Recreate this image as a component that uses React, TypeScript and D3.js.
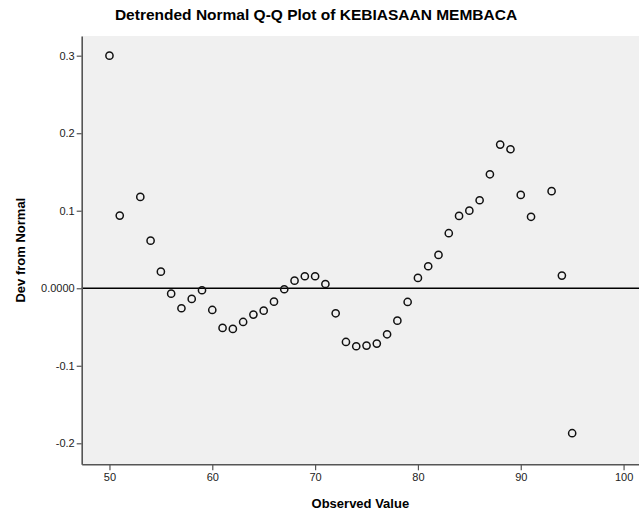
import React, { useEffect, useRef } from "react";
import * as d3 from "d3";

const observed = [
  50, 51, 53, 54, 55, 56, 57, 58, 59, 60, 61, 62, 63, 64, 65, 66, 67, 68, 69, 70,
  71, 72, 73, 74, 75, 76, 77, 78, 79, 80, 81, 82, 83, 84, 85, 86, 87, 88, 89, 90,
  91, 93, 94, 95,
];
const deviation = [
  0.3, 0.0937, 0.1178, 0.0614, 0.0214, -0.007, -0.0258, -0.0138, -0.0026, -0.028,
  -0.0512, -0.0525, -0.0435, -0.034, -0.0289, -0.0173, -0.0013, 0.0098, 0.0155, 0.0155,
  0.0055, -0.0323, -0.0693, -0.0748, -0.074, -0.0714, -0.0594, -0.0418, -0.0177, 0.0133,
  0.0284, 0.043, 0.071, 0.0933, 0.1001, 0.1135, 0.147, 0.1853, 0.1793, 0.1204,
  0.0922, 0.1252, 0.0163, -0.187,
];
const xTicks = [50, 60, 70, 80, 90, 100];
const yTicks = [-0.2, -0.1, 0, 0.1, 0.2, 0.3];
const yTickLabels = ["-0.2", "-0.1", "0.0000", "0.1", "0.2", "0.3"];

const W = 639;
const H = 516;
const font = "Arial, 'Liberation Sans', sans-serif";

const App: React.FC = () => {
  const ref = useRef<SVGSVGElement>(null);

  useEffect(() => {
    if (!ref.current) return;
    const svg = d3.select(ref.current);
    svg.selectAll("*").remove();

    const left = 81.7;
    const right = 639;
    const top = 36;
    const bottom = 464.3;

    const x = d3.scaleLinear().domain([47.3, 101.5]).range([left, right]);
    const y = d3.scaleLinear().domain([-0.2271, 0.3254]).range([bottom, top]);

    svg.append("rect").attr("width", W).attr("height", H).attr("fill", "#ffffff");

    // plot background
    svg
      .append("rect")
      .attr("x", left)
      .attr("y", top)
      .attr("width", right - left)
      .attr("height", bottom - top)
      .attr("fill", "#f0f0f0");

    // zero reference line
    svg
      .append("line")
      .attr("x1", left)
      .attr("x2", right)
      .attr("y1", y(0))
      .attr("y2", y(0))
      .attr("stroke", "#000")
      .attr("stroke-width", 1.3);

    // Y axis
    const yAxis = svg
      .append("g")
      .attr("transform", `translate(${left},0)`)
      .call(
        d3
          .axisLeft(y)
          .tickValues(yTicks)
          .tickSize(5)
          .tickSizeOuter(0)
          .tickPadding(2)
          .tickFormat((d, i) => yTickLabels[i])
      );
    yAxis.select(".domain").attr("stroke", "#555").attr("stroke-width", 1.6);
    yAxis.selectAll(".tick line").attr("stroke", "#555").attr("stroke-width", 1.2);
    yAxis
      .selectAll(".tick text")
      .attr("fill", "#222")
      .style("font-family", font)
      .style("font-size", "11px");

    // X axis
    const xAxis = svg
      .append("g")
      .attr("transform", `translate(0,${bottom})`)
      .call(
        d3
          .axisBottom(x)
          .tickValues(xTicks)
          .tickSize(6)
          .tickSizeOuter(0)
          .tickPadding(3)
      );
    xAxis.select(".domain").attr("stroke", "#555").attr("stroke-width", 1.6);
    xAxis.selectAll(".tick line").attr("stroke", "#555").attr("stroke-width", 1.2);
    xAxis
      .selectAll(".tick text")
      .attr("fill", "#222")
      .style("font-family", font)
      .style("font-size", "11px");

    // points
    svg
      .append("g")
      .selectAll("circle")
      .data(observed)
      .enter()
      .append("circle")
      .attr("cx", (d) => x(d))
      .attr("cy", (d, i) => y(deviation[i]))
      .attr("r", 3.6)
      .attr("fill", "none")
      .attr("stroke", "#111")
      .attr("stroke-width", 1.5);

    // titles
    svg
      .append("text")
      .attr("x", 316)
      .attr("y", 20)
      .attr("text-anchor", "middle")
      .style("font-family", font)
      .style("font-size", "15.5px")
      .style("font-weight", "bold")
      .attr("fill", "#000")
      .text("Detrended Normal Q-Q Plot of KEBIASAAN MEMBACA");

    svg
      .append("text")
      .attr("x", (left + right) / 2)
      .attr("y", 508)
      .attr("text-anchor", "middle")
      .style("font-family", font)
      .style("font-size", "13px")
      .style("font-weight", "bold")
      .attr("fill", "#000")
      .text("Observed Value");

    svg
      .append("text")
      .attr("transform", `translate(25,${(top + bottom) / 2}) rotate(-90)`)
      .attr("text-anchor", "middle")
      .style("font-family", font)
      .style("font-size", "13px")
      .style("font-weight", "bold")
      .attr("fill", "#000")
      .text("Dev from Normal");
  }, []);

  return (
    <svg
      ref={ref}
      width={W}
      height={H}
      style={{ position: "absolute", left: 0, top: 0, display: "block" }}
    />
  );
};

export default App;
